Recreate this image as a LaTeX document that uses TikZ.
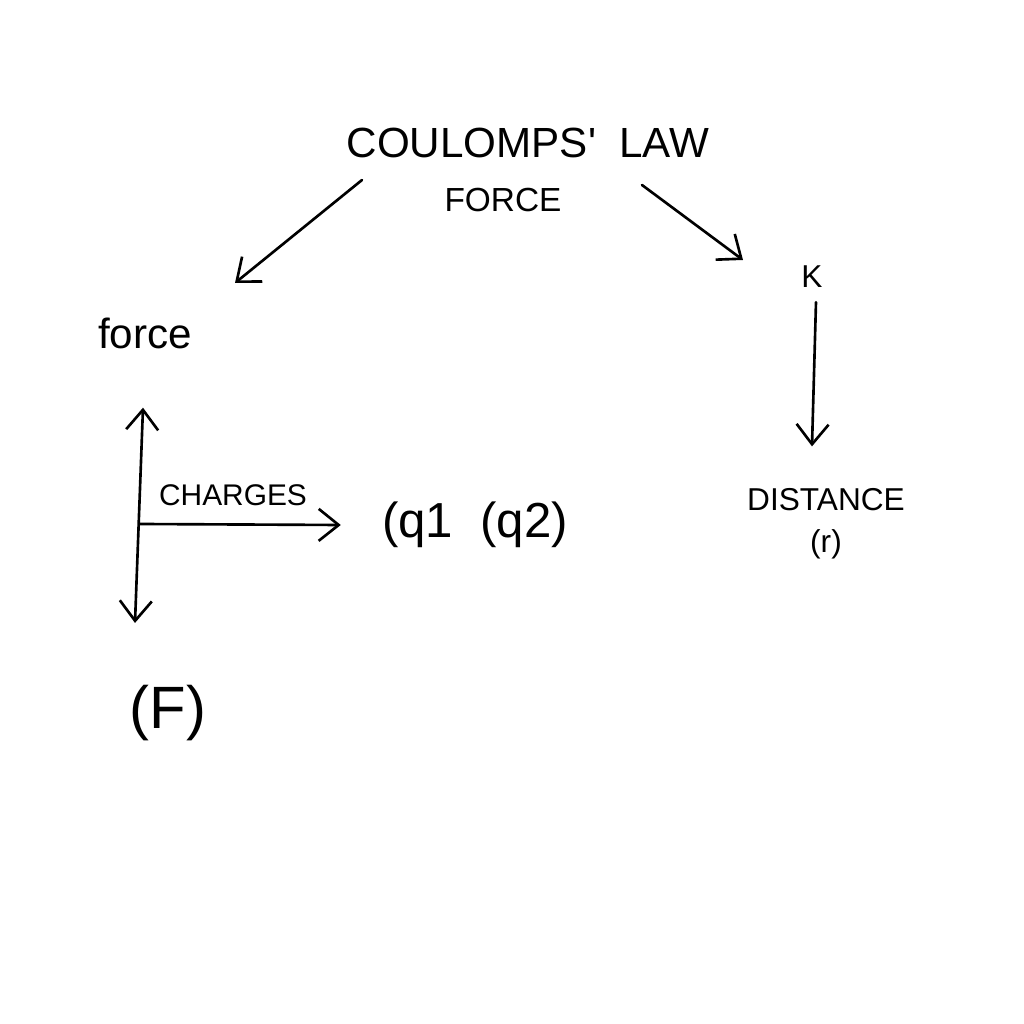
\documentclass[tikz,border=0pt]{standalone}
\usepackage{fontspec}
\setmainfont{Liberation Sans}
\usetikzlibrary{arrows.meta}

\tikzset{
    arr/.style={-{Straight Barb[length=2mm,width=3.2mm]}, line width=0.75pt, line cap=round},
    darr/.style={{Straight Barb[length=2mm,width=3.2mm]}-{Straight Barb[length=2mm,width=3.2mm]}, line width=0.75pt, line cap=round},
    lbl/.style={inner sep=1pt, align=center}
}

\begin{document}
\begin{tikzpicture}
    \useasboundingbox[fill=white] (0,0) rectangle (10.24,10.24);

    % title and top branches
    \node[lbl, font=\fontsize{12}{14}\selectfont] (title) at (5.28,8.81) {COULOMPS\textquotesingle\ \ LAW};
    \node[lbl, font=\fontsize{9.5}{11}\selectfont] (sub) at (5.03,8.24) {FORCE};
    \node[lbl, font=\fontsize{12}{14}\selectfont] (force) at (1.45,6.91) {force};
    \node[lbl, font=\fontsize{9}{11}\selectfont] (k) at (8.12,7.47) {K};
    \node[lbl, font=\fontsize{9}{11}\selectfont] (dist) at (8.26,5.0) {DISTANCE\\[1pt] (r)};

    \coordinate (tl) at (3.62,8.44);
    \coordinate (tr) at (6.42,8.39);
    \coordinate (fl) at (2.35,7.41);
    \coordinate (kr) at (7.43,7.64);
    \draw[arr] (tl) -- (fl);
    \draw[arr] (tr) -- (kr);
    \draw[arr] ([xshift=0.04cm,yshift=-0.1cm]k.south) -- ([xshift=-0.14cm,yshift=0.38cm]dist.north);

    % charges and force
    \node[lbl, font=\fontsize{8.5}{10}\selectfont] (charges) at (2.33,5.29) {CHARGES};
    \node[lbl, font=\fontsize{14}{16}\selectfont] (q) at (4.75,4.99) {(q1\ \ (q2)};
    \node[lbl, font=\fontsize{17}{19}\selectfont] (bigf) at (1.68,3.11) {(F)};

    \draw[darr] ([xshift=-0.02cm,yshift=-0.55cm]force.south) -- ([xshift=-0.33cm,yshift=0.58cm]bigf.north);
    \coordinate (hs) at (1.40,5.0);
    \draw[arr] (hs) -- ([xshift=-0.37cm]q.west);
\end{tikzpicture}
\end{document}
